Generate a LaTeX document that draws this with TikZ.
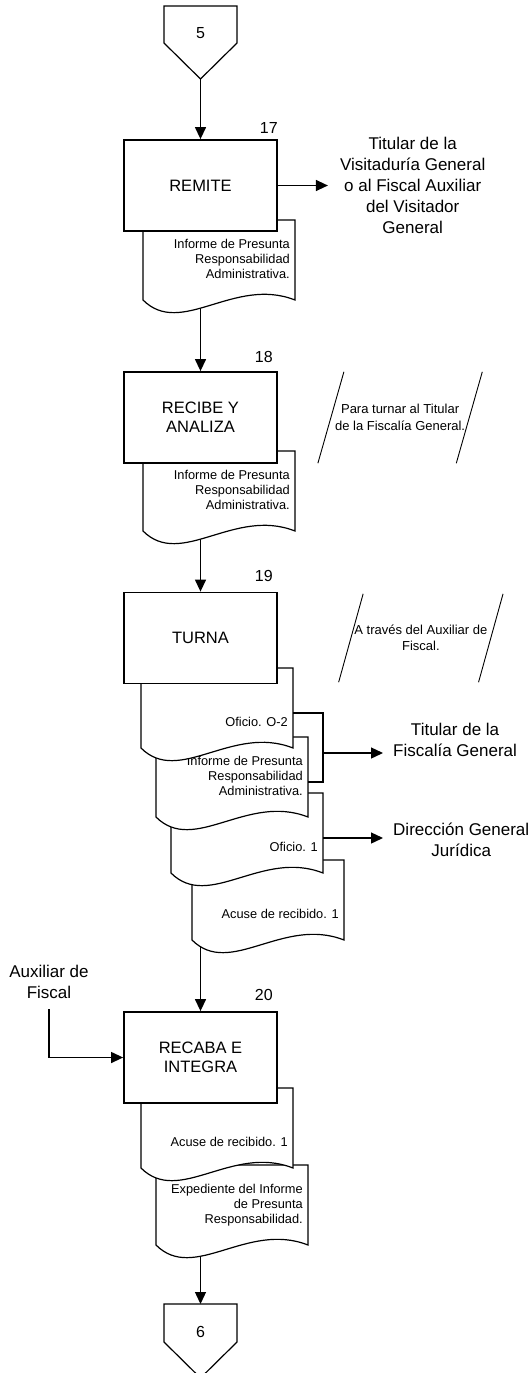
\documentclass[tikz,border=0pt]{standalone}
\usepackage{fontspec}
\setmainfont{Liberation Sans}
\usetikzlibrary{arrows.meta, positioning, backgrounds}

% document sheet: name, left, top, text
\newcommand{\docshape}[4]{%
  \path[docline] (#2,#3) -- ({#2+152},#3) -- ({#2+152},{#3+80})
    .. controls ({#2+91},{#3+56}) and ({#2+38},{#3+118}) .. (#2,{#3+80}) -- cycle;
  \coordinate (#1-e) at ({#2+152},{#3+45});
  \node[doctext] (#1) at ({#2+147},{#3+63.5}) {#4};
}

\begin{document}
\begin{tikzpicture}[
    x=1pt, y=-1pt,
    stepbox/.style={rectangle, draw, fill=white, line width=1.8pt, minimum width=153pt, minimum height=91pt, align=center, font=\fontsize{16.5}{19}\selectfont},
    docline/.style={draw, fill=white, line width=1.2pt},
    doctext/.style={anchor=south east, inner sep=0pt, align=right, font=\fontsize{12.8}{15}\selectfont, execute at end node=\strut},
    dest/.style={align=center, inner sep=2pt, font=\fontsize{17}{21}\selectfont},
    note/.style={minimum width=138pt, minimum height=91pt, inner sep=0pt, align=center, font=\fontsize{13}{16.5}\selectfont},
    noteline/.style={line width=0.9pt},
    stepnum/.style={anchor=base east, inner sep=0pt, font=\fontsize{16}{19}\selectfont},
    connum/.style={inner sep=0pt, font=\fontsize{16}{19}\selectfont},
    conn/.style={draw, fill=white, line width=1.2pt},
    arrow/.style={-{Triangle[length=12pt,width=11pt]}, line width=1.3pt}
]
\useasboundingbox (0,0) rectangle (532,1373);

% off-page connectors
\path[conn] (164,6) -- (237,6) -- (237,43) -- (200.5,79) coordinate (c5tip) -- (164,43) -- cycle;
\node[connum] (c5) at (200.5,33) {5};
\path[conn] (164,1304) -- (237,1304) -- (237,1342) -- (200.5,1378) -- (164,1342) -- cycle;
\coordinate (c6top) at (200.5,1304);
\node[connum] (c6) at (200.5,1332) {6};

% documents (lowest first)
\docshape{d17}{143}{220}{Informe de Presunta\\Responsabilidad\\Administrativa.}
\docshape{d18}{143}{451}{Informe de Presunta\\Responsabilidad\\Administrativa.}
\docshape{acuseA}{192}{860}{Acuse de recibido. 1}
\docshape{ofb}{171}{793}{Oficio. 1}
\docshape{inf}{156}{737}{Informe de Presunta\\Responsabilidad\\Administrativa.}
\docshape{ofa}{141}{668}{Oficio. O-2}
\docshape{expd}{156}{1165}{Expediente del Informe\\de Presunta\\Responsabilidad.}
\docshape{acuseB}{141}{1088}{Acuse de recibido. 1}

% process boxes
\node[stepbox] (b17) at (200.5,185.5) {REMITE};
\node[stepbox] (b18) at (200.5,417.5) {RECIBE Y\\ANALIZA};
\node[stepbox] (b19) at (200.5,638) {TURNA};
\node[stepbox] (b20) at (200.5,1057.5) {RECABA E\\INTEGRA};

\node[stepnum] (n17) at ([yshift=6pt]b17.north east) {17};
\node[stepnum] (n18) at ([xshift=-5pt,yshift=9pt]b18.north east) {18};
\node[stepnum] (n19) at ([xshift=-5pt,yshift=10pt]b19.north east) {19};
\node[stepnum] (n20) at ([xshift=-5pt,yshift=11pt]b20.north east) {20};

% notes
\node[note, right=53pt of b18] (a18) {Para turnar al Titular\\de la Fiscalía General.};
\draw[noteline] ([xshift=13pt]a18.north west) -- ([xshift=-13pt]a18.south west)
  ([xshift=13pt]a18.north east) -- ([xshift=-13pt]a18.south east);
\node[note, minimum width=139.5pt, minimum height=88pt, right=73pt of b19] (a19) {A través del Auxiliar de\\Fiscal.};
\draw[noteline] ([xshift=12.25pt]a19.north west) -- ([xshift=-12.25pt]a19.south west)
  ([xshift=12.25pt]a19.north east) -- ([xshift=-12.25pt]a19.south east);

% recipients
\node[dest, right=60pt of b17] (vis) {Titular de la\\Visitaduría General\\o al Fiscal Auxiliar\\del Visitador\\General};
\draw[arrow, shorten >=10pt] (b17) -- (vis);

\draw[line width=1.2pt] (ofa-e) -- ++(30,0) coordinate (brk) |- (inf-e);
\coordinate (brkm) at ([yshift=-40pt]brk);
\node[dest, right=68pt of brkm, yshift=13pt] (fisc) {Titular de la\\Fiscalía General};
\draw[arrow, shorten >=8pt] (brkm) -- (brkm -| fisc.west);

\node[dest, right=68pt of ofb-e, yshift=-1.5pt] (dgj) {Dirección General\\Jurídica};
\draw[arrow, shorten >=8pt] (ofb-e) -- (ofb-e -| dgj.west);

\node[dest] (aux) at (49,981.5) {Auxiliar de\\Fiscal};
\draw[arrow] ([yshift=-9pt]aux.south) |- (b20);

% main flow
\begin{scope}[on background layer]
\draw[arrow] (c5tip) -- (b17);
\draw[arrow] (b17 |- d17) -- (b18);
\draw[arrow] (b18 |- d18) -- (b19);
\draw[arrow] (b19 |- acuseA) -- (b20);
\draw[arrow] (b20 |- expd) -- (c6top);
\end{scope}

\end{tikzpicture}
\end{document}
